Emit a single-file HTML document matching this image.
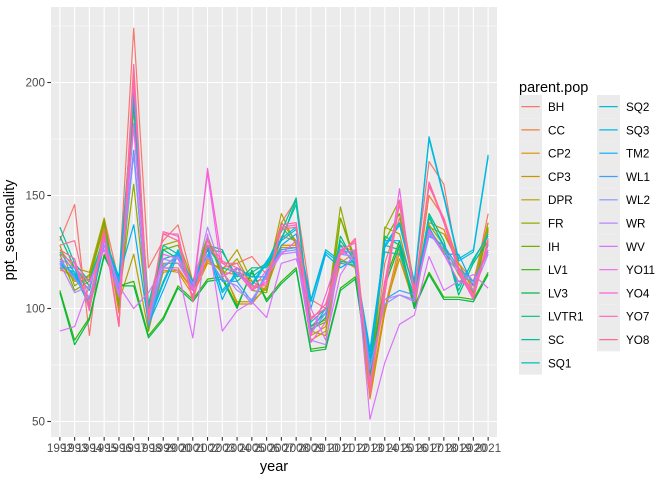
<!DOCTYPE html>
<html><head><meta charset="utf-8"><style>
body{margin:0;background:#fff;}
svg{display:block;font-family:"Liberation Sans",sans-serif;}
</style></head><body>
<svg id="chart" width="672" height="480" viewBox="0 0 672 480">
<rect x="0" y="0" width="672" height="480" fill="#fff"/>
<rect x="51" y="7" width="446" height="430" fill="#ebebeb"/>
<g id="grid"></g><g id="series"></g><g id="axes"></g><g id="legend"></g>
<text x="14" y="230" transform="rotate(-90 14 230)" text-anchor="middle" font-size="14.5" fill="#000">ppt_seasonality</text>
<text x="274" y="471" text-anchor="middle" font-size="14.5" fill="#000">year</text>
</svg>
<script>
const years=[1992,1993,1994,1995,1996,1997,1998,1999,2000,2001,2002,2003,2004,2005,2006,2007,2008,2009,2010,2011,2012,2013,2014,2015,2016,2017,2018,2019,2020,2021];
const pops=["BH","CC","CP2","CP3","DPR","FR","IH","LV1","LV3","LVTR1","SC","SQ1","SQ2","SQ3","TM2","WL1","WL2","WR","WV","YO11","YO4","YO7","YO8"];
const yTicks=[50,100,150,200];
const BH=[130,146,88,140,112,224,118,130,137,112,128,118,120,123,115,138,148,104,100,128,125,65,120,140,112,165,155,118,110,142];
const CC=[117,115,112,138,100,190,93,118,118,108,122,116,115,112,108,132,130,92,98,120,125,62,100,128,104,150,140,120,112,138];
const CP2=[118,113,114,137,98,192,90,117,116,106,120,118,102,102,110,128,128,86,90,122,118,60,98,125,100,138,135,118,110,135];
const CP3=[120,112,113,136,100,188,92,116,117,108,121,117,103,103,109,127,127,88,92,121,119,62,100,122,102,136,133,120,108,134];
const DPR=[126,118,116,140,103,124,90,120,120,112,130,117,126,112,113,142,128,90,88,140,120,64,136,133,107,134,125,118,110,138];
const FR=[128,110,115,138,104,155,92,128,130,112,132,115,122,110,108,138,130,92,95,145,118,66,135,148,110,137,128,115,105,136];
const IH=[124,108,112,139,101,170,90,126,128,110,131,114,118,108,107,136,129,91,94,140,122,65,130,142,108,135,126,117,107,135];
const LV1=[108,86,96,124,110,112,88,96,110,104,113,114,101,116,104,112,118,82,83,109,114,71,112,130,101,116,105,105,104,116];
const LV3=[107,84,95,123,110,110,87,95,109,103,112,113,100,117,103,111,117,81,82,108,113,70,110,128,100,115,104,104,103,115];
const LVTR1=[132,118,110,130,112,190,100,126,122,108,128,126,112,118,118,130,148,90,96,132,120,72,132,128,102,142,130,106,120,130];
const SC=[136,120,112,132,114,194,102,128,124,110,126,125,114,116,120,134,149,92,98,130,121,75,128,126,104,140,128,108,122,132];
const SQ1=[125,116,108,134,108,196,98,122,124,108,127,118,116,114,119,131,146,94,100,128,119,78,125,124,106,141,127,110,121,133];
const SQ2=[119,116,102,131,112,195,95,112,126,110,128,108,116,110,120,131,136,104,126,121,120,82,128,138,112,176,150,122,126,168];
const SQ3=[120,115,101,130,111,194,94,111,125,109,127,107,115,111,121,130,135,103,125,120,119,81,127,137,111,175,149,121,125,167];
const TM2=[118,118,100,128,114,137,93,108,124,112,126,104,118,114,114,128,133,100,124,118,122,78,130,130,108,136,124,124,110,128];
const WL1=[121,114,104,132,108,170,92,118,124,110,124,112,112,103,116,126,127,90,100,126,124,74,104,108,106,132,128,118,112,126];
const WL2=[122,113,105,131,107,168,94,119,123,111,123,113,110,102,115,125,126,89,98,124,123,73,102,106,104,133,126,117,111,125];
const WR=[120,107,110,128,105,180,96,122,120,109,136,116,108,104,114,124,125,86,84,126,121,68,104,106,103,134,124,116,108,124];
const WV=[90,92,110,130,110,100,107,118,117,87,133,90,99,103,96,120,122,100,86,115,125,51,76,93,97,123,108,112,115,109];
const YO11=[122,118,112,126,106,182,98,124,122,108,160,114,118,108,117,124,130,85,94,124,126,66,108,153,104,135,124,112,110,126];
const YO4=[124,120,100,133,92,200,97,133,133,104,162,120,116,108,112,136,137,88,106,126,129,64,110,148,108,155,138,116,104,130];
const YO7=[126,122,99,134,93,208,96,134,132,104,130,121,118,109,111,137,138,95,102,125,130,62,112,146,106,156,139,117,105,131];
const YO8=[128,130,102,135,92,205,95,133,130,103,128,120,120,110,110,135,136,96,100,124,131,65,106,147,107,154,140,118,106,129];
const seriesValues=[BH,CC,CP2,CP3,DPR,FR,IH,LV1,LV3,LVTR1,SC,SQ1,SQ2,SQ3,TM2,WL1,WL2,WR,WV,YO11,YO4,YO7,YO8];
const colors=["#F8766D","#EC8239","#DD8D00","#C99800","#B3A000","#97A900","#71B000","#2FB600","#00BA4A","#00BE78","#00C09B","#00C0B8","#00BDD0","#00B8E5","#00AEF6","#3AA1FF","#8D92FF","#B983FF","#DB72FB","#F066EA","#FC61D5","#FF65B2","#FF6C90"];

const NS="http://www.w3.org/2000/svg";
const step=446/(years.length-1+1.2);
function xPos(i){return 51+(0.6+i)*step;}
function yPos(v){return 308.5-(v-100)*2.26;}
function mk(tag,attrs,parent){const e=document.createElementNS(NS,tag);for(const k in attrs)e.setAttribute(k,attrs[k]);parent.appendChild(e);return e;}

const grid=document.getElementById('grid');
[75,125,175,225].forEach(v=>{const l=mk('line',{x1:51,x2:497,y1:yPos(v),y2:yPos(v),stroke:'#fff','stroke-width':0.55},grid);

});
yTicks.forEach(v=>{const l=mk('line',{x1:51,x2:497,y1:yPos(v),y2:yPos(v),stroke:'#fff','stroke-width':1.1},grid);

});
years.forEach((yr,i)=>{const l=mk('line',{x1:xPos(i),x2:xPos(i),y1:7,y2:437,stroke:'#fff','stroke-width':1.1},grid);

});

const sg=document.getElementById('series');
seriesValues.forEach((vals,s)=>{
 const d=vals.map((v,i)=>(i?'L':'M')+xPos(i).toFixed(2)+','+yPos(v).toFixed(2)).join('');
 const p=mk('path',{d:d,fill:'none',stroke:colors[s],'stroke-width':1.2,'stroke-linejoin':'round'},sg);
 
 
});

const ax=document.getElementById('axes');
yTicks.forEach(v=>{mk('line',{x1:47.3,x2:51,y1:yPos(v),y2:yPos(v),stroke:'#333','stroke-width':1.1},ax);
 const t=mk('text',{x:45,y:yPos(v)+4,'text-anchor':'end','font-size':11.7,fill:'#4d4d4d'},ax);t.textContent=v;
 
 });
years.forEach((yr,i)=>{mk('line',{x1:xPos(i),x2:xPos(i),y1:437,y2:440.7,stroke:'#333','stroke-width':1.1},ax);
 const t=mk('text',{x:xPos(i),y:452,'text-anchor':'middle','font-size':11.7,fill:'#4d4d4d'},ax);t.textContent=yr;
 
 });

const lg=document.getElementById('legend');
const title=mk('text',{x:519,y:92,'font-size':14.5,fill:'#000'},lg);title.textContent='parent.pop';


pops.forEach((p,i)=>{
 const col=i<12?0:1,row=i<12?i:i-12;
 const x0=519+col*78,y0=95+row*23.3;
 const g=mk('g',{},lg);
 
 
 mk('rect',{x:x0,y:y0,width:23,height:23.3,fill:'#ebebeb'},g);
 mk('line',{x1:x0+2.3,x2:x0+20.7,y1:y0+11.6,y2:y0+11.6,stroke:colors[i],'stroke-width':1.2},g);
 const t=mk('text',{x:x0+29,y:y0+16,'font-size':11.7,fill:'#000'},g);t.textContent=p;
});
</script>
</body></html>
